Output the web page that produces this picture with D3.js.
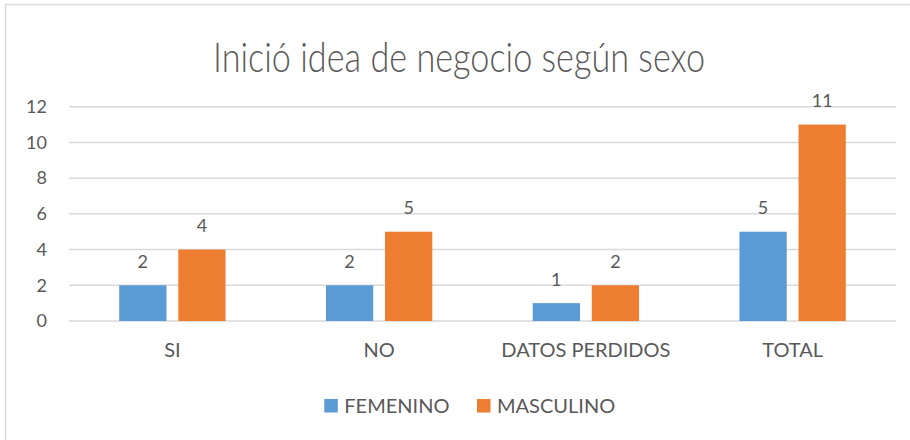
<!DOCTYPE html>
<html>
<head>
    <meta charset="utf-8">
    <script src="https://cdn.jsdelivr.net/npm/d3@7"></script>
    <style>
      body { margin: 0; background: #fff; }
      text { font-family: Lato, "Open Sans", sans-serif; fill: #595959; }
    </style>
</head>
<body>
    <script type="text/javascript">
    "use strict";

    // Values.
    var categories = ["SI", "NO", "DATOS PERDIDOS", "TOTAL"];
    var seriesNames = ["FEMENINO", "MASCULINO"];
    var femenino = [2, 2, 1, 5];
    var masculino = [4, 5, 2, 11];
    var yTicks = [0, 2, 4, 6, 8, 10, 12];
    var colors = ["#5B9BD5", "#ED7D31"];

    var width = 910, height = 440;
    var plotLeft = 69, plotRight = 896, plotTop = 106.7, plotBottom = 321;

    var svg = d3.select("body").append("svg")
        .attr("width", width)
        .attr("height", height);

    // Chart frame (only the top and left edges show in the picture).
    svg.append("rect")
        .attr("x", 5.5).attr("y", 4.5)
        .attr("width", width + 10).attr("height", height + 10)
        .attr("fill", "none")
        .attr("stroke", "#d9d9d9")
        .attr("stroke-width", 1.5);

    // Title, squeezed a bit so it has the width of the original (Calibri Light)
    svg.append("text")
        .attr("x", 459)
        .attr("y", 71.5)
        .attr("text-anchor", "middle")
        .attr("textLength", 492)
        .attr("lengthAdjust", "spacingAndGlyphs")
        .style("font-size", "42px")
        .style("font-weight", 300)
        .text("Inició idea de negocio según sexo");

    var y = d3.scaleLinear().domain([0, 12]).range([plotBottom, plotTop]);
    var x0 = d3.scaleBand().domain(categories).range([plotLeft, plotRight]);
    var x1 = d3.scaleBand().domain(seriesNames)
        .range([0, x0.bandwidth()])
        .paddingInner(0.2)
        .paddingOuter(0.85);

    // Gridlines
    svg.append("g").selectAll("line")
        .data(yTicks)
        .enter().append("line")
        .attr("x1", plotLeft).attr("x2", plotRight)
        .attr("y1", function(d) { return y(d); })
        .attr("y2", function(d) { return y(d); })
        .attr("stroke", "#d9d9d9")
        .attr("stroke-width", 1.5);

    // Y axis labels
    var yAxis = d3.axisLeft(y).tickValues(yTicks).tickSize(0).tickPadding(0);
    var yg = svg.append("g")
        .attr("transform", "translate(47,0)")
        .call(yAxis);
    yg.select(".domain").remove();
    yg.selectAll("text")
        .style("font-size", "18px")
        .style("font-family", "Lato, 'Open Sans', sans-serif")
        .attr("fill", "#595959");

    // X axis labels
    var xAxis = d3.axisBottom(x0).tickSize(0).tickPadding(0);
    var xg = svg.append("g")
        .attr("transform", "translate(0,343)")
        .call(xAxis);
    xg.select(".domain").remove();
    xg.selectAll("text")
        .style("font-size", "20px")
        .style("font-family", "Lato, 'Open Sans', sans-serif")
        .attr("fill", "#595959");

    var rows = categories.map(function(c, i) {
      return { cat: c, values: [femenino[i], masculino[i]] };
    });

    var groups = svg.append("g").selectAll("g")
        .data(rows)
        .enter().append("g")
        .attr("transform", function(d) { return "translate(" + x0(d.cat) + ",0)"; });

    groups.selectAll("rect")
        .data(function(d) {
          return d.values.map(function(v, j) { return { s: seriesNames[j], v: v, j: j }; });
        })
        .enter().append("rect")
        .attr("x", function(d) { return x1(d.s); })
        .attr("y", function(d) { return y(d.v); })
        .attr("width", x1.bandwidth())
        .attr("height", function(d) { return y(0) - y(d.v); })
        .attr("fill", function(d) { return colors[d.j]; });

    groups.selectAll("text.val")
        .data(function(d) {
          return d.values.map(function(v, j) { return { s: seriesNames[j], v: v }; });
        })
        .enter().append("text")
        .attr("class", "val")
        .attr("x", function(d) { return x1(d.s) + x1.bandwidth() / 2; })
        .attr("y", function(d) { return y(d.v) - 17.5; })
        .attr("text-anchor", "middle")
        .style("font-size", "18px")
        .text(function(d) { return d.v; });

    // Legend
    var legendX = [324.3, 477];
    var legend = svg.append("g").selectAll("g")
        .data(seriesNames)
        .enter().append("g")
        .attr("transform", function(d, i) { return "translate(" + legendX[i] + ",399)"; });
    legend.append("rect")
        .attr("width", 13.5).attr("height", 13.5)
        .attr("fill", function(d, i) { return colors[i]; });
    legend.append("text")
        .attr("x", 20)
        .attr("y", 14)
        .style("font-size", "20px")
        .text(function(d) { return d; });
    </script>
</body>
</html>
